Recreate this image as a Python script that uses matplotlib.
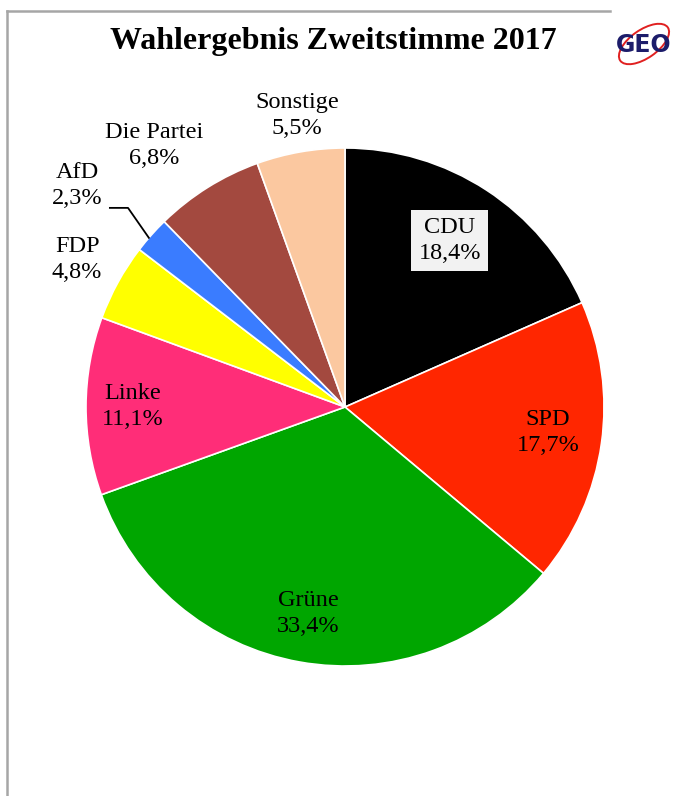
import matplotlib
matplotlib.use("Agg")
import matplotlib.pyplot as plt
import numpy as np
from matplotlib.lines import Line2D
from matplotlib.patches import Ellipse

parties = ["CDU", "SPD", "Grüne", "Linke", "FDP", "AfD", "Die Partei", "Sonstige"]
shares = [18.4, 17.7, 33.4, 11.1, 4.8, 2.3, 6.8, 5.5]
value_labels = ["18,4%", "17,7%", "33,4%", "11,1%", "4,8%", "2,3%", "6,8%", "5,5%"]
colors = ["#000000", "#ff2600", "#00a600", "#ff2d78", "#ffff00", "#3a7cff", "#a3493f", "#fbc8a0"]
label_dist = [0.76, 0.79, 0.81, 0.82, 1.18, 1.34, 1.25, 1.14]
label_angle_shift = [1.0, 1.0, 0.0, 0.0, 0.0, 2.0, 4.0, -0.5]
title = "Wahlergebnis Zweitstimme 2017"

W, H = 673, 796
fig = plt.figure(figsize=(W / 100, H / 100), dpi=100)
fig.patch.set_facecolor("white")

cx, cy, r = 345, 407, 259
ax = fig.add_axes([(cx - r) / W, (H - cy - r) / H, 2 * r / W, 2 * r / H])

wedges, _ = ax.pie(shares, colors=colors, startangle=90, counterclock=False,
                   radius=1, wedgeprops=dict(edgecolor="white", linewidth=1.2))
ax.set_xlim(-1, 1)
ax.set_ylim(-1, 1)
ax.set_aspect("equal")
ax.axis("off")

font = "Liberation Serif"
for i, w in enumerate(wedges):
    mid = np.deg2rad((w.theta1 + w.theta2) / 2 + label_angle_shift[i])
    x, y = label_dist[i] * np.cos(mid), label_dist[i] * np.sin(mid)
    kw = dict(ha="center", va="center", fontsize=17.5, family=font, color="#000000",
              linespacing=1.3)
    if parties[i] == "CDU":
        kw["bbox"] = dict(boxstyle="square,pad=0.3", facecolor="#f2f2f2", edgecolor="none")
    t = ax.text(x, y, parties[i] + "\n" + value_labels[i], **kw)
    t.set_clip_on(False)
    if parties[i] == "AfD":
        edge = np.deg2rad((w.theta1 + w.theta2) / 2 + 0.8)
        ex, ey = 1.0 * np.cos(edge), 1.0 * np.sin(edge)
        lx = x + 0.125
        ly = y - 0.085
        ax.add_line(Line2D([lx, lx + 0.07, ex], [ly, ly, ey], color="black", lw=1.3,
                           clip_on=False))

fig.text(333 / W, 1 - 41 / H, title, ha="center", va="center", fontsize=23,
         fontweight="bold", family=font)

# frame lines
fig.add_artist(Line2D([7 / W, 610 / W], [1 - 11 / H, 1 - 11 / H], color="#a6a6a6", lw=1.8))
fig.add_artist(Line2D([7 / W, 7 / W], [1 - 11 / H, 0], color="#a6a6a6", lw=1.8))

# logo
lax = fig.add_axes([612 / W, 1 - 72 / H, 61 / W, 56 / H])
lax.set_xlim(0, 61)
lax.set_ylim(0, 56)
lax.axis("off")
lax.add_patch(Ellipse((32, 28), 58, 28, angle=35, fill=False, edgecolor="#e02020", lw=1.4))
lax.text(32, 27, "GEO", ha="center", va="center", fontsize=17, fontweight="bold",
         color="#1c1c6a", family="DejaVu Sans")

fig.savefig("out.png", dpi=100)
